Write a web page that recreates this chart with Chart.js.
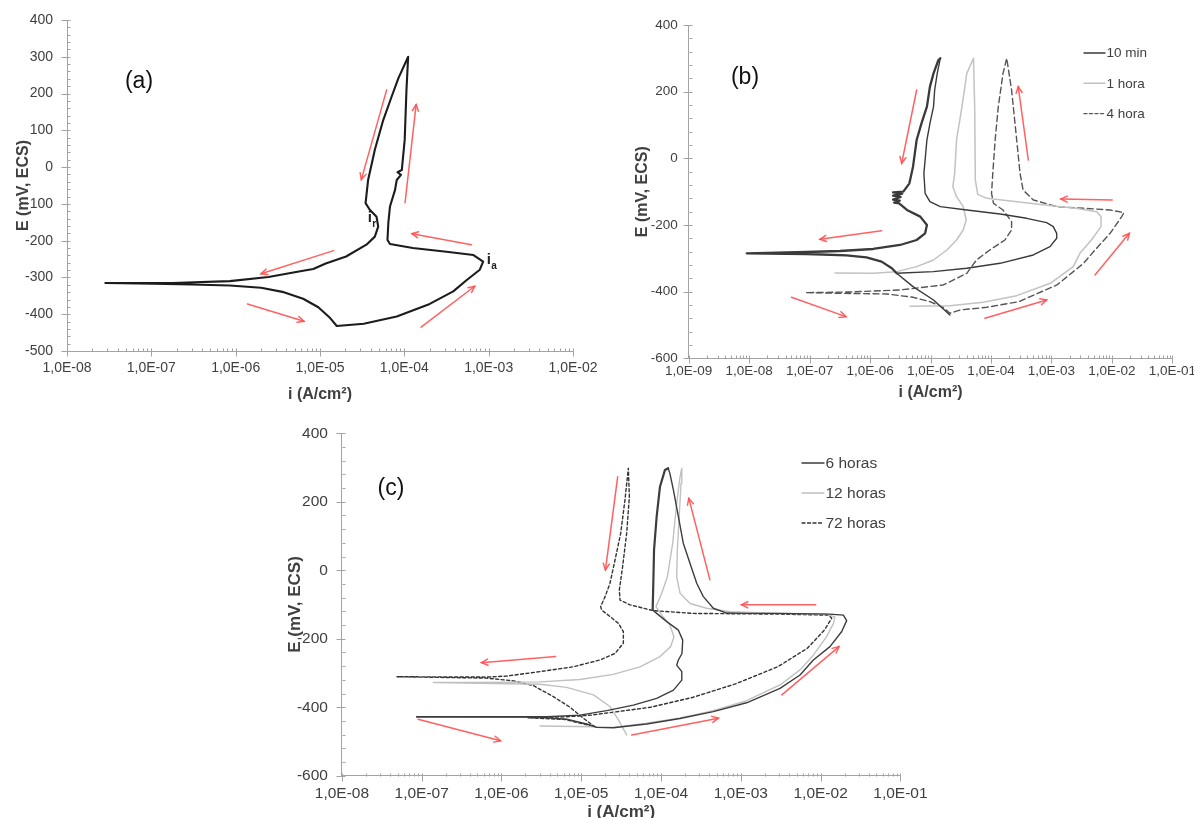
<!DOCTYPE html>
<html><head><meta charset="utf-8">
<script src="https://cdn.jsdelivr.net/npm/chart.js@4.4.1/dist/chart.umd.min.js"></script>
<style>
html,body{margin:0;padding:0;background:#fff;width:1194px;height:818px;overflow:hidden;position:relative;}
canvas{position:absolute;}
</style></head><body>
<canvas id="ca" width="600" height="410" style="left:0;top:0;width:600px;height:410px"></canvas>
<canvas id="cb" width="594" height="410" style="left:600px;top:0;width:594px;height:410px"></canvas>
<canvas id="cc" width="660" height="410" style="left:270px;top:420px;width:660px;height:410px"></canvas>
<script>
// ---------------- DATA ----------------
// axis ticks & labels
const xTicksA = [1e-8,1e-7,1e-6,1e-5,1e-4,1e-3,1e-2];
const xTickLabelsA = ['1,0E-08','1,0E-07','1,0E-06','1,0E-05','1,0E-04','1,0E-03','1,0E-02'];
const yTicksA = [-500,-400,-300,-200,-100,0,100,200,300,400];
const yTickLabelsA = ['-500','-400','-300','-200','-100','0','100','200','300','400'];

const xTicksB = [1e-9,1e-8,1e-7,1e-6,1e-5,1e-4,1e-3,1e-2,1e-1];
const xTickLabelsB = ['1,0E-09','1,0E-08','1,0E-07','1,0E-06','1,0E-05','1,0E-04','1,0E-03','1,0E-02','1,0E-01'];
const yTicksB = [-600,-400,-200,0,200,400];
const yTickLabelsB = ['-600','-400','-200','0','200','400'];

const xTicksC = [1e-8,1e-7,1e-6,1e-5,1e-4,1e-3,1e-2,1e-1];
const xTickLabelsC = ['1,0E-08','1,0E-07','1,0E-06','1,0E-05','1,0E-04','1,0E-03','1,0E-02','1,0E-01'];
const yTicksC = [-600,-400,-200,0,200,400];
const yTickLabelsC = ['-600','-400','-200','0','200','400'];

// panel (a): single cyclic polarization curve
const curveA_i = [2.85e-8,1.05e-7,3.02e-7,8.51e-7,2.0e-6,3.72e-6,6.31e-6,9.55e-6,1.29e-5,1.58e-5,3.3e-5,8.13e-5,2.0e-4,3.8e-4,5.5e-4,7.85e-4,8.6e-4,6.6e-4,3.16e-4,1.26e-4,6.76e-5,6.31e-5,6.46e-5,6.76e-5,7.76e-5,8.13e-5,9.12e-5,8.3e-5,9.33e-5,1.01e-4,1.06e-4,1.11e-4,8.51e-5,7.08e-5,5.62e-5,4.47e-5,3.72e-5,3.47e-5,3.89e-5,4.68e-5,4.9e-5,4.47e-5,3.55e-5,2.04e-5,1.17e-5,8.32e-6,5.62e-6,2.45e-6,8.51e-7,1.78e-7,2.85e-8];
const curveA_E = [-315,-317,-319,-322,-328,-340,-358,-381,-408,-432,-426,-406,-372,-338,-307,-279,-257,-239,-230,-220,-209,-198,-152,-107,-62,-35,-21,-14,-8,74,210,300,242,192,128,47,-35,-98,-116,-135,-162,-189,-211,-243,-262,-277,-284,-299,-310,-315,-315];

// panel (b)
const min10_i = [2.09e-5,1.12e-5,5.13e-6,2.75e-6,1.11e-5,3.96e-5,1.41e-4,5.01e-4,9.46e-4,1.22e-3,1.22e-3,1.07e-3,8.32e-4,3.89e-4,1.41e-4,3.98e-5,1.45e-5,9.77e-6,8.13e-6,7.76e-6,8.71e-6,9.77e-6,1.12e-5,1.17e-5,1.29e-5,1.45e-5,1.35e-5,1.12e-5,9.77e-6,8.71e-6,7.08e-6,5.89e-6,5.13e-6,4.47e-6,3.55e-6,2.4e-6,3.4e-6,2.4e-6,3.2e-6,2.4e-6,3.1e-6,2.5e-6,3.02e-6,4.07e-6,6.76e-6,8.71e-6,8.13e-6,5.89e-6,3.13e-6,1.12e-6,3.16e-7,8.91e-8,9.12e-9,8.91e-8,4.07e-7,8.71e-7,1.55e-6,2.29e-6,2.75e-6];
const min10_E = [-470,-425,-385,-345,-340,-330,-315,-290,-265,-240,-225,-205,-193,-180,-167,-155,-145,-130,-105,-45,55,105,155,205,255,300,295,255,215,155,105,55,-25,-75,-100,-102,-106,-112,-116,-124,-127,-133,-135,-155,-175,-200,-225,-245,-260,-272,-278,-281,-285,-287,-291,-297,-310,-330,-345];

const hora1_i = [4.57e-6,2.09e-5,7.41e-5,2.66e-4,9.55e-4,2.29e-3,2.95e-3,4.57e-3,6.61e-3,6.61e-3,5.62e-3,2.51e-3,1.0e-3,2.69e-4,8.51e-5,6.03e-5,5.5e-5,5.37e-5,5.13e-5,3.98e-5,3.31e-5,2.69e-5,2.51e-5,2.34e-5,2.69e-5,3.47e-5,3.89e-5,3.47e-5,2.69e-5,1.86e-5,1.12e-5,5.89e-6,2.75e-6,1.12e-6,2.63e-7];
const hora1_E = [-444,-442,-432,-412,-375,-325,-285,-245,-205,-175,-160,-150,-142,-130,-120,-108,-65,155,300,255,155,55,-45,-85,-115,-145,-185,-215,-245,-275,-305,-325,-340,-345,-344];

const hora4_i = [8.91e-8,1.48e-7,1.88e-6,5.19e-6,9.77e-6,1.62e-5,2.09e-5,3.09e-5,8.51e-5,2.88e-4,1.23e-3,3.39e-3,5.25e-3,9.33e-3,1.45e-2,1.58e-2,9.33e-3,5.25e-3,1.23e-3,5.01e-4,3.39e-4,3.02e-4,2.66e-4,2.19e-4,1.82e-4,1.58e-4,1.32e-4,1.17e-4,1.07e-4,1.02e-4,1.10e-4,1.58e-4,2.19e-4,2.19e-4,1.70e-4,9.55e-5,5.75e-5,3.98e-5,1.62e-5,3.13e-6,4.68e-7,8.91e-8];
const hora4_E = [-403,-404,-407,-417,-430,-447,-465,-455,-447,-430,-380,-315,-275,-225,-175,-163,-155,-152,-145,-125,-95,-45,55,205,300,255,155,55,-45,-105,-135,-155,-190,-215,-245,-275,-305,-345,-380,-395,-401,-403];

// panel (c)
const h6_i = [8.65e-8,2.76e-6,6.56e-6,1.17e-5,1.56e-5,2.52e-5,6.61e-5,1.73e-4,4.52e-4,1.18e-3,3.10e-3,5.52e-3,8.11e-3,1.31e-2,1.84e-2,2.12e-2,1.93e-2,1.31e-2,3.10e-3,1.18e-3,6.64e-4,4.52e-4,3.39e-4,2.80e-4,2.31e-4,1.90e-4,1.65e-4,1.43e-4,1.29e-4,1.23e-4,1.12e-4,9.70e-5,8.81e-5,8.17e-5,8.0e-5,7.85e-5,8.81e-5,1.18e-4,1.65e-4,1.87e-4,1.83e-4,1.65e-4,1.57e-4,1.82e-4,1.82e-4,1.43e-4,8.81e-5,4.50e-5,2.08e-5,9.64e-6,3.69e-6,8.65e-8];
const h6_E = [-428,-429,-435,-449,-459,-460,-449,-433,-413,-387,-345,-306,-262,-223,-179,-147,-131,-128,-126,-126,-125,-111,-77,-38,20,79,157,234,283,298,293,244,157,59,-38,-116,-126,-150,-175,-204,-243,-262,-277,-296,-321,-350,-374,-394,-410,-423,-428,-428];

const h12_i = [3.04e-6,1.42e-5,2.52e-5,6.61e-5,1.73e-4,4.52e-4,1.18e-3,3.10e-3,5.52e-3,8.11e-3,1.19e-2,1.45e-2,1.51e-2,1.19e-2,3.10e-3,7.31e-4,3.73e-4,2.31e-4,1.73e-4,1.57e-4,1.60e-4,1.69e-4,1.78e-4,1.82e-4,1.73e-4,1.57e-4,1.40e-4,1.20e-4,1.02e-4,8.65e-5,1.02e-4,1.29e-4,1.45e-4,1.32e-4,9.70e-5,5.45e-5,2.52e-5,9.64e-6,3.04e-6,5.38e-7,1.40e-7,5.38e-7,3.04e-6,6.56e-6,1.42e-5,2.29e-5,2.92e-5,3.71e-5];
const h12_E = [-455,-457,-459,-447,-431,-410,-381,-335,-291,-248,-194,-155,-136,-128,-126,-121,-111,-97,-67,-19,59,157,254,298,273,195,79,-19,-67,-106,-131,-160,-194,-223,-252,-282,-304,-319,-326,-328,-328,-330,-333,-342,-364,-398,-437,-481];

const h72_i = [2.15e-6,6.46e-6,1.34e-5,7.41e-5,2.52e-4,8.53e-4,2.89e-3,6.81e-3,1.11e-2,1.38e-2,1.26e-2,2.89e-3,2.52e-4,8.0e-5,4.08e-5,3.06e-5,3.0e-5,3.30e-5,3.71e-5,4.01e-5,3.89e-5,3.53e-5,3.12e-5,2.65e-5,2.29e-5,1.99e-5,1.75e-5,1.80e-5,2.29e-5,2.92e-5,3.37e-5,3.37e-5,2.65e-5,1.72e-5,7.94e-6,3.04e-6,1.16e-6,6.52e-7,4.9e-8,6.52e-7,1.41e-6,2.51e-6,4.47e-6,7.23e-6,1.01e-5,1.29e-5,1.49e-5,6.3e-6,2.15e-6];
const h72_E = [-431,-428,-423,-400,-371,-332,-282,-228,-175,-140,-131,-128,-126,-118,-101,-87,-58,11,108,215,298,205,108,30,-38,-77,-106,-116,-135,-155,-179,-213,-243,-262,-282,-296,-309,-312,-311,-315,-323,-337,-369,-400,-428,-447,-457,-436,-431];

// red direction arrows: [i1, E1, i2, E2]
const arrowsA = [[6.17e-5,210,3.09e-5,-34],[1.02e-4,-97,1.38e-4,170],[6.24e-4,-211,1.23e-4,-181],[1.45e-5,-227,2.0e-6,-290],[1.38e-6,-372,6.46e-6,-419],[1.58e-4,-435,6.84e-4,-324]];
const arrowsB = [[5.89e-6,205,3.33e-6,-15],[4.14e-4,-5,2.82e-4,215],[1.01e-2,-125,1.43e-3,-122],[1.55e-6,-217,1.48e-7,-243],[5.01e-8,-417,3.98e-7,-475],[7.94e-5,-480,8.32e-4,-425],[5.25e-3,-350,1.94e-2,-225]];
const arrowsC = [[2.86e-5,273,2.01e-5,1],[4.1e-4,-28,2.23e-4,210],[8.69e-3,-101,1.02e-3,-101],[4.76e-6,-252,5.62e-7,-270],[9.0e-8,-435,9.72e-7,-498],[4.29e-5,-481,5.24e-4,-432],[3.27e-3,-364,1.70e-2,-223]];

// text notes in panel (a): [text, subscript, i, E]
const notesA = [['i','r',3.69e-5,-138],['i','a',9.5e-4,-252]];

const seriesNamesB = ['10 min','1 hora','4 hora'];
const seriesNamesC = ['6 horas','12 horas','72 horas'];

// ---------------- RENDERING ----------------
const FONT = '"Liberation Sans", Arial, Helvetica, sans-serif';
const AXIS = '#a3a3a3';
const TXT = '#404040';

function pts(xs, ys){ return xs.map((v,k)=>({x:v, y:ys[k]})); }

function arrow(ctx,x1,y1,x2,y2){
  ctx.beginPath(); ctx.moveTo(x1,y1); ctx.lineTo(x2,y2); ctx.stroke();
  const a=Math.atan2(y2-y1,x2-x1), L=7, w=0.45;
  ctx.beginPath();
  ctx.moveTo(x2-L*Math.cos(a-w), y2-L*Math.sin(a-w));
  ctx.lineTo(x2,y2);
  ctx.lineTo(x2-L*Math.cos(a+w), y2-L*Math.sin(a+w));
  ctx.stroke();
}

function decorPlugin(P){
  return {
    id:'decor'+P.id,
    afterDraw(chart){
      const ctx=chart.ctx, xs=chart.scales.x, ys=chart.scales.y, ca=chart.chartArea;
      ctx.save();
      // tick marks
      ctx.strokeStyle=AXIS; ctx.lineWidth=1;
      ctx.beginPath();
      const by=Math.round(ca.bottom)+0.5, lx=Math.round(ca.left)+0.5;
      P.xTicks.forEach((d,k)=>{
        const px=Math.round(xs.getPixelForValue(d))+0.5;
        ctx.moveTo(px,by-3); ctx.lineTo(px,by+5);
        if(k<P.xTicks.length-1){
          for(let m=2;m<=9;m++){
            const q=Math.round(xs.getPixelForValue(m*d))+0.5;
            ctx.moveTo(q,by-3); ctx.lineTo(q,by);
          }
        }
      });
      P.yTicks.forEach(v=>{
        const py=Math.round(ys.getPixelForValue(v))+0.5;
        ctx.moveTo(lx-6,py); ctx.lineTo(lx+3,py);
      });
      for(let v=P.yTicks[0]; v<=P.yTicks[P.yTicks.length-1]; v+=P.yMinor){
        if(P.yTicks.indexOf(v)>=0) continue;
        const py=Math.round(ys.getPixelForValue(v))+0.5;
        ctx.moveTo(lx,py); ctx.lineTo(lx+3,py);
      }
      ctx.stroke();
      // arrows
      ctx.strokeStyle='rgba(255,80,80,0.9)'; ctx.lineWidth=1.5; ctx.lineCap='round';
      P.arrows.forEach(a=>{
        arrow(ctx, xs.getPixelForValue(a[0]), ys.getPixelForValue(a[1]), xs.getPixelForValue(a[2]), ys.getPixelForValue(a[3]));
      });
      // panel label
      ctx.fillStyle='#111'; ctx.font='23px '+FONT; ctx.textAlign='center'; ctx.textBaseline='middle';
      ctx.fillText(P.label, P.labelPos[0], P.labelPos[1]);
      // notes
      (P.notes||[]).forEach(n=>{
        const px=xs.getPixelForValue(n[2]), py=ys.getPixelForValue(n[3]);
        ctx.fillStyle='#222'; ctx.textAlign='left'; ctx.textBaseline='middle';
        ctx.font='bold 15px '+FONT; ctx.fillText(n[0],px,py);
        ctx.font='bold 10px '+FONT; ctx.fillText(n[1],px+4.5,py+6);
      });
      // legend
      if(P.legend){
        const L=P.legend;
        chart.data.datasets.forEach((ds,k)=>{
          const y=L.y0+k*L.dy;
          ctx.strokeStyle=ds.borderColor; ctx.lineWidth=1.4;
          ctx.setLineDash(L.dash[k]);
          ctx.beginPath(); ctx.moveTo(L.x0,y); ctx.lineTo(L.x0+L.len,y); ctx.stroke();
          ctx.setLineDash([]);
          ctx.fillStyle=TXT; ctx.font=L.font+'px '+FONT; ctx.textAlign='left'; ctx.textBaseline='middle';
          ctx.fillText(ds.label, L.x0+L.len+1.5, y+0.5);
        });
      }
      ctx.restore();
    }
  };
}

function makeChart(P){
  const c=document.getElementById(P.canvas);
  return new Chart(c.getContext('2d'), {
    type:'scatter',
    data:{datasets:P.datasets},
    options:{
      responsive:false, animation:false, devicePixelRatio:1,
      layout:{padding:P.pad},
      plugins:{legend:{display:false}, tooltip:{enabled:false}},
      elements:{point:{radius:0}, line:{tension:0, borderJoinStyle:'round', borderCapStyle:'round'}},
      scales:{
        x:{type:'logarithmic', position:'bottom', min:P.xTicks[0], max:P.xTicks[P.xTicks.length-1],
          afterBuildTicks:s=>{ s.ticks=P.xTicks.map(v=>({value:v})); },
          afterFit:s=>{ s.height=P.xHeight; s.paddingLeft=0; s.paddingRight=0; },
          ticks:{autoSkip:false, maxRotation:0, minRotation:0, padding:P.xLabelPad, color:TXT,
            font:{family:FONT,size:P.tickFont}, callback:(v,i)=>P.xLabels[i]},
          grid:{display:true, drawOnChartArea:false, drawTicks:false},
          border:{display:true, color:AXIS, width:1},
          title:{display:true, text:'i (A/cm²)', color:TXT, font:{family:FONT,size:P.titleFont,weight:'bold'}, padding:{top:0,bottom:P.xTitlePad}}
        },
        y:{type:'linear', position:'left', min:P.yTicks[0], max:P.yTicks[P.yTicks.length-1],
          afterBuildTicks:s=>{ s.ticks=P.yTicks.map(v=>({value:v})); },
          afterFit:s=>{ s.width=P.yWidth; s.paddingTop=0; s.paddingBottom=0; },
          ticks:{padding:P.yLabelPad, color:TXT, font:{family:FONT,size:P.tickFont}, callback:(v,i)=>P.yLabels[i]},
          grid:{display:true, drawOnChartArea:false, drawTicks:false},
          border:{display:true, color:AXIS, width:1},
          title:{display:true, text:'E (mV, ECS)', color:TXT, font:{family:FONT,size:P.titleFont,weight:'bold'}, padding:{top:P.yTitlePad,bottom:0}}
        }
      }
    },
    plugins:[decorPlugin(P)]
  });
}

const line = (label, data, color, width, dash, extra) => Object.assign({label, data, showLine:true, borderColor:color, backgroundColor:color, borderWidth:width, borderDash:dash||[], pointRadius:0, fill:false}, extra||{});

makeChart({
  id:'a', canvas:'ca', pad:{left:0,top:20,right:27,bottom:0}, yWidth:67, xHeight:59,
  xTicks:xTicksA, xLabels:xTickLabelsA, yTicks:yTicksA, yLabels:yTickLabelsA, yMinor:20,
  tickFont:14, titleFont:16, xLabelPad:9, yLabelPad:14, xTitlePad:6, yTitlePad:14,
  arrows:arrowsA, notes:notesA, label:'(a)', labelPos:[139,82],
  datasets:[ line('a', pts(curveA_i,curveA_E), '#1c1c1c', 2.1) ]
});

makeChart({
  id:'b', canvas:'cb', pad:{left:0,top:25,right:21.6,bottom:0}, yWidth:88.7, xHeight:51.7,
  xTicks:xTicksB, xLabels:xTickLabelsB, yTicks:yTicksB, yLabels:yTickLabelsB, yMinor:40,
  tickFont:13.5, titleFont:16, xLabelPad:5, yLabelPad:11, xTitlePad:8, yTitlePad:33,
  arrows:arrowsB, label:'(b)', labelPos:[145,78],
  legend:{x0:484, y0:53, dy:30.3, len:21, font:13.5, dash:[[],[],[3,2.5]]},
  datasets:[
    line(seriesNamesB[0], pts(min10_i,min10_E), '#3a3a3a', 1.4, [], {segment:{borderWidth:c=>(c.p0DataIndex>=25)?2.3:1.4}}),
    line(seriesNamesB[1], pts(hora1_i,hora1_E), '#c2c2c2', 1.5),
    line(seriesNamesB[2], pts(hora4_i,hora4_E), '#555555', 1.4, [6,3.5])
  ]
});

makeChart({
  id:'c', canvas:'cc', pad:{left:0,top:13.3,right:29.6,bottom:0}, yWidth:71.9, xHeight:54.3,
  xTicks:xTicksC, xLabels:xTickLabelsC, yTicks:yTicksC, yLabels:yTickLabelsC, yMinor:40,
  tickFont:15.5, titleFont:17, xLabelPad:9, yLabelPad:14, xTitlePad:7, yTitlePad:15,
  arrows:arrowsC, label:'(c)', labelPos:[121,69],
  legend:{x0:532, y0:43, dy:30, len:22, font:15.5, dash:[[],[],[3,2.5]]},
  datasets:[
    line(seriesNamesC[0], pts(h6_i,h6_E), '#3d3d3d', 1.4, [], {segment:{borderWidth:c=>(c.p0DataIndex>=29&&c.p0DataIndex<35)?2.2:1.4}}),
    line(seriesNamesC[1], pts(h12_i,h12_E), '#c0c0c0', 1.4),
    line(seriesNamesC[2], pts(h72_i,h72_E), '#333333', 1.4, [3,2.5])
  ]
});
</script>
</body></html>
